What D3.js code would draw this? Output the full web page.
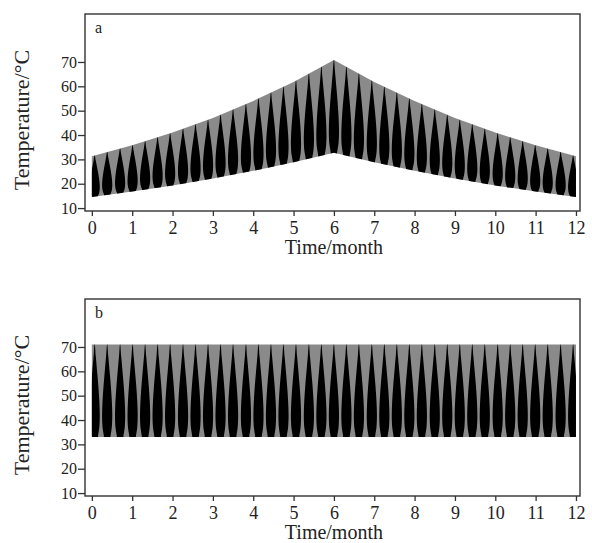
<!DOCTYPE html>
<html lang="en">
<head>
<meta charset="utf-8">
<title>Temperature / month</title>
<script src="https://cdn.jsdelivr.net/npm/d3@7"></script>
<style>
  body { margin: 0; background: #fff; }
  svg text { font-family: "Liberation Serif", "Times New Roman", serif; fill: #222; }
</style>
</head>
<body>
<script>
// chart size
var w = 592, h = 543;

// data
var months = [0, 1, 2, 3, 4, 5, 6, 7, 8, 9, 10, 11, 12];
var lowA  = [14.6, 16.8, 19.3, 22.1, 25.3, 28.8, 32.7, 28.8, 25.3, 22.1, 19.3, 16.8, 14.6];
var highA = [31.3, 35.8, 41.0, 47.0, 54.0, 61.8, 70.8, 61.8, 54.0, 47.0, 41.0, 35.8, 31.3];
var lowB  = [33, 33, 33, 33, 33, 33, 33, 33, 33, 33, 33, 33, 33];
var highB = [71, 71, 71, 71, 71, 71, 71, 71, 71, 71, 71, 71, 71];
// where the dark bands of the oscillation sit (month)
var peaks = [0.07, 0.38, 0.70, 1.01, 1.32, 1.63, 1.94, 2.26, 2.57, 2.88, 3.19, 3.50, 3.82,
             4.13, 4.44, 4.75, 5.06, 5.38, 5.69, 6.00, 6.31, 6.62, 6.94, 7.25, 7.56, 7.87,
             8.18, 8.50, 8.81, 9.12, 9.43, 9.74, 10.06, 10.37, 10.68, 10.99, 11.30, 11.62, 11.93];
var xTicks = [0, 1, 2, 3, 4, 5, 6, 7, 8, 9, 10, 11, 12];
var yTicks = [10, 20, 30, 40, 50, 60, 70];

var svg = d3.select("body").append("svg")
  .attr("width", w)
  .attr("height", h);

var x = d3.scaleLinear().domain([-0.17, 12.1]).range([85, 580]);
var y = d3.scaleLinear().domain([8.8, 89.7]).range([197, 0]);

var defs = svg.append("defs");

// shape of one dark band: [relative height, relative half width]
var profile = [[-0.04, 0.42], [0.03, 0.7], [0.1, 0.9], [0.22, 1], [0.38, 0.92],
               [0.55, 0.72], [0.72, 0.46], [0.87, 0.22], [1.01, 0]];

function interp(arr, t) {
  var i = Math.max(0, Math.min(months.length - 2, Math.floor(t)));
  var f = t - months[i];
  return arr[i] + (arr[i + 1] - arr[i]) * f;
}

function drawPanel(top, low, high, label, id) {
  var g = svg.append("g").attr("transform", "translate(0," + top + ")");

  var rows = months.map(function(m, i) { return { m: m, lo: low[i], hi: high[i] }; });

  var area = d3.area()
    .x(function(d) { return x(d.m); })
    .y0(function(d) { return y(d.lo); })
    .y1(function(d) { return y(d.hi); });

  defs.append("clipPath").attr("id", "clip" + id)
    .append("path").attr("d", area(rows));

  g.append("path")
    .attr("d", area(rows))
    .attr("fill", "#8a8a8a");

  var hw = 5.1; // px
  var blob = d3.line()
    .x(function(p) { return p[0]; })
    .y(function(p) { return p[1]; })
    .curve(d3.curveCatmullRomClosed);

  g.append("g")
    .attr("clip-path", "url(#clip" + id + ")")
    .selectAll("path")
    .data(peaks)
    .enter()
    .append("path")
    .attr("d", function(c) {
      var lo = interp(low, c), hi = interp(high, c);
      var left = profile.map(function(p) {
        return [x(c) - p[1] * hw, y(lo + p[0] * (hi - lo))];
      });
      var right = profile.slice(0, -1).reverse().map(function(p) {
        return [x(c) + p[1] * hw, y(lo + p[0] * (hi - lo))];
      });
      return blob(left.concat(right));
    })
    .attr("fill", "#000");

  // frame
  g.append("rect")
    .attr("x", 85).attr("y", 0)
    .attr("width", 495).attr("height", 197)
    .attr("fill", "none")
    .attr("stroke", "#333")
    .attr("stroke-width", 1.4);

  var yAxis = g.append("g")
    .attr("transform", "translate(85,0)")
    .call(d3.axisLeft(y).tickValues(yTicks).tickSize(7).tickPadding(1));
  yAxis.select(".domain").remove();
  yAxis.selectAll("line").attr("stroke", "#333").attr("stroke-width", 1.3);
  yAxis.selectAll("text").attr("font-size", "16px").attr("fill", "#222")
    .attr("font-family", "Liberation Serif, serif");

  var xAxis = g.append("g")
    .attr("transform", "translate(0,197)")
    .call(d3.axisBottom(x).tickValues(xTicks).tickSize(5).tickPadding(5));
  xAxis.select(".domain").remove();
  xAxis.selectAll("line").attr("stroke", "#333").attr("stroke-width", 1.3);
  xAxis.selectAll("text").attr("font-size", "18px").attr("fill", "#222")
    .attr("font-family", "Liberation Serif, serif");

  g.append("text")
    .attr("x", 95).attr("y", 19)
    .attr("font-size", "16px")
    .text(label);

  g.append("text")
    .attr("text-anchor", "middle")
    .attr("x", x(6)).attr("y", 240)
    .attr("font-size", "20px")
    .text("Time/month");

  g.append("text")
    .attr("text-anchor", "middle")
    .attr("transform", "translate(29,106) rotate(-90)")
    .attr("font-size", "22px")
    .text("Temperature/°C");
}

drawPanel(14, lowA, highA, "a", "a");
drawPanel(299, lowB, highB, "b", "b");
</script>
</body>
</html>
